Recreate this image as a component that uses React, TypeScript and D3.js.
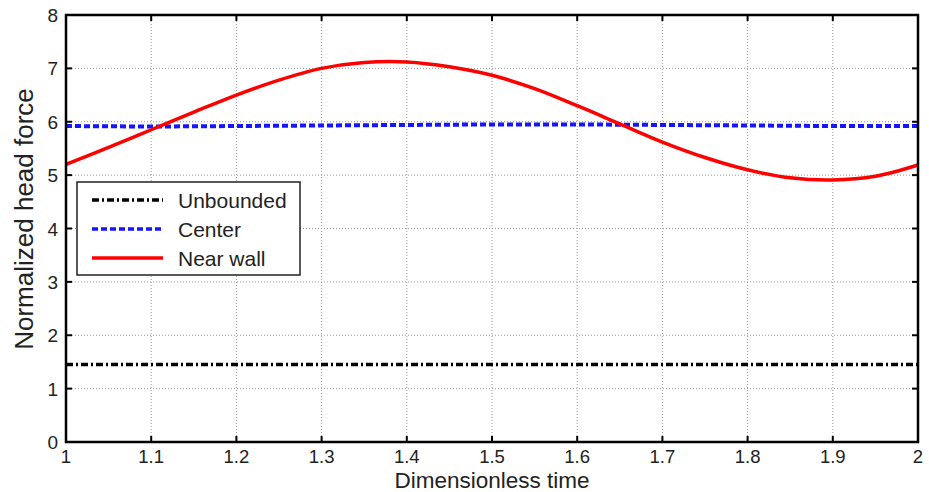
import React from "react";
import * as d3 from "d3";

const xTicks = [1, 1.1, 1.2, 1.3, 1.4, 1.5, 1.6, 1.7, 1.8, 1.9, 2];
const yTicks = [0, 1, 2, 3, 4, 5, 6, 7, 8];

const tValues = [1.0, 1.05, 1.1, 1.15, 1.2, 1.25, 1.3, 1.35, 1.4, 1.45, 1.5, 1.55, 1.6, 1.65, 1.7, 1.75, 1.8, 1.85, 1.9, 1.95, 2.0];
const nearWall = [5.2, 5.52, 5.85, 6.18, 6.5, 6.78, 7.0, 7.11, 7.12, 7.03, 6.87, 6.62, 6.3, 5.96, 5.62, 5.33, 5.1, 4.95, 4.91, 4.98, 5.19];
const centerT = [1.0, 1.1, 1.2, 1.3, 1.4, 1.5, 1.6, 1.7, 1.8, 1.9, 2.0];
const center = [5.92, 5.91, 5.92, 5.93, 5.94, 5.95, 5.95, 5.94, 5.93, 5.92, 5.92];
const unbounded = [1.45, 1.45, 1.45, 1.45, 1.45, 1.45, 1.45, 1.45, 1.45, 1.45, 1.45];

const legendItems = [
  { label: "Unbounded", color: "#000", dash: "7,3,2,3" },
  { label: "Center", color: "#1515ff", dash: "6,3" },
  { label: "Near wall", color: "#ff0000", dash: "" },
];

export default function App() {
  const W = 929, H = 492;
  const L = 66, R = 918, T = 15, B = 442;
  const x = d3.scaleLinear().domain([1, 2]).range([L, R]);
  const y = d3.scaleLinear().domain([0, 8]).range([B, T]);
  const font = "'Liberation Sans', Arial, Helvetica, sans-serif";

  const lineCurve = d3.line<[number, number]>().x((d) => x(d[0])).y((d) => y(d[1])).curve(d3.curveCatmullRom);
  const lineStraight = d3.line<[number, number]>().x((d) => x(d[0])).y((d) => y(d[1]));

  const nwPath = lineCurve(tValues.map((t, i) => [t, nearWall[i]]))!;
  const cPath = lineStraight(centerT.map((t, i) => [t, center[i]]))!;
  const uPath = lineStraight(centerT.map((t, i) => [t, unbounded[i]]))!;

  const tickLen = 6;
  const lg = { x: 77, y: 182, w: 223, h: 93 };
  const rowY = [200, 229, 258];

  return (
    <svg width={W} height={H} style={{ position: "absolute", left: 0, top: 0 }} fontFamily={font}>
      <rect x={0} y={0} width={W} height={H} fill="#fff" />
      {/* grid */}
      {xTicks.slice(1, -1).map((t) => (
        <line key={"gx" + t} x1={x(t)} x2={x(t)} y1={T} y2={B} stroke="#999" strokeWidth={1} strokeDasharray="1,2" />
      ))}
      {yTicks.slice(1, -1).map((v) => (
        <line key={"gy" + v} x1={L} x2={R} y1={y(v)} y2={y(v)} stroke="#999" strokeWidth={1} strokeDasharray="1,2" />
      ))}
      {/* data */}
      <path d={uPath} fill="none" stroke="#000" strokeWidth={3.5} strokeDasharray="7,3,2,3" />
      <path d={cPath} fill="none" stroke="#1515ff" strokeWidth={4} strokeDasharray="6,3" />
      <path d={nwPath} fill="none" stroke="#ff0000" strokeWidth={3.5} />
      {/* ticks */}
      {xTicks.slice(1, -1).map((t) => (
        <g key={"tx" + t}>
          <line x1={x(t)} x2={x(t)} y1={B} y2={B - tickLen} stroke="#000" strokeWidth={2} />
          <line x1={x(t)} x2={x(t)} y1={T} y2={T + tickLen} stroke="#000" strokeWidth={2} />
        </g>
      ))}
      {yTicks.slice(1, -1).map((v) => (
        <g key={"ty" + v}>
          <line x1={L} x2={L + tickLen} y1={y(v)} y2={y(v)} stroke="#000" strokeWidth={2} />
          <line x1={R} x2={R - tickLen} y1={y(v)} y2={y(v)} stroke="#000" strokeWidth={2} />
        </g>
      ))}
      {/* frame */}
      <rect x={L} y={T} width={R - L} height={B - T} fill="none" stroke="#000" strokeWidth={2.5} />
      {/* tick labels */}
      {xTicks.map((t) => (
        <text key={"lx" + t} x={x(t)} y={463} textAnchor="middle" fontSize={18.5} fill="#222">
          {d3.format("")(t)}
        </text>
      ))}
      {yTicks.map((v) => (
        <text key={"ly" + v} x={58} y={y(v) + 7} textAnchor="end" fontSize={19} fill="#222">
          {v}
        </text>
      ))}
      {/* axis labels */}
      <text x={(L + R) / 2} y={488} textAnchor="middle" fontSize={22.5} fill="#222">
        Dimensionless time
      </text>
      <text transform={`translate(33,219) rotate(-90)`} textAnchor="middle" fontSize={26} fill="#222">
        Normalized head force
      </text>
      {/* legend */}
      <rect x={lg.x} y={lg.y} width={lg.w} height={lg.h} fill="#fff" stroke="#222" strokeWidth={1.5} />
      {legendItems.map((it, i) => (
        <g key={it.label}>
          <line x1={92} x2={163} y1={rowY[i]} y2={rowY[i]} stroke={it.color} strokeWidth={3.5} strokeDasharray={it.dash || undefined} />
          <text x={178} y={rowY[i] + 7.5} fontSize={21} fill="#222">
            {it.label}
          </text>
        </g>
      ))}
    </svg>
  );
}
